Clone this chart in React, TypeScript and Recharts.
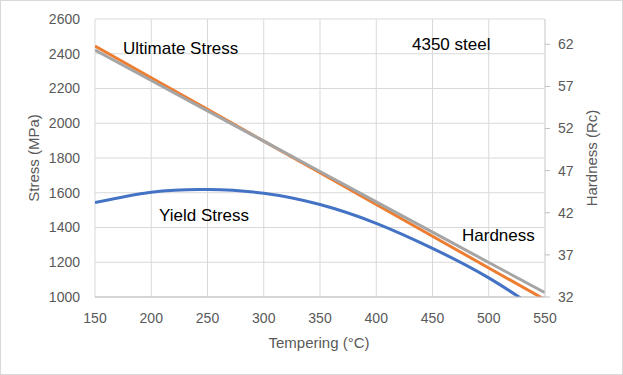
import React from "react";
import { LineChart, Line, XAxis, YAxis, CartesianGrid } from "recharts";

const temps = [150, 200, 250, 300, 350, 400, 450, 500, 550];
const yieldStress = [1543, 1603, 1618, 1597, 1532, 1424, 1280, 1110, 900];
const ultimateStress = [2445, 2262, 2080, 1897, 1715, 1532, 1350, 1167, 985];
const hardness = [61.3, 57.7, 54.1, 50.5, 46.9, 43.3, 39.7, 36.1, 32.5];

const xTicks = [150, 200, 250, 300, 350, 400, 450, 500, 550];
const leftTicks = [1000, 1200, 1400, 1600, 1800, 2000, 2200, 2400, 2600];
const rightTicks = [32, 37, 42, 47, 52, 57, 62];

const data = temps.map((t, i) => ({
  t,
  yield: yieldStress[i],
  ultimate: ultimateStress[i],
  hardness: hardness[i],
}));

const FONT = "'Liberation Sans', Arial, sans-serif";
const tickStyle = { fill: "#595959", fontSize: 14, fontFamily: FONT };

export default function App() {
  return (
    <div
      style={{
        position: "absolute",
        top: 0,
        left: 0,
        width: 623,
        height: 375,
        background: "#fff",
        border: "1px solid #d9d9d9",
        boxSizing: "border-box",
      }}
    >
      <div style={{ position: "absolute", top: -1, left: -1 }}>
        <LineChart
          width={623}
          height={375}
          data={data}
          margin={{ top: 19, right: 18, left: 15, bottom: 38 }}
        >
          <CartesianGrid yAxisId="left" stroke="#d9d9d9" strokeWidth={1} />
          <XAxis
            dataKey="t"
            type="number"
            domain={[150, 550]}
            ticks={xTicks}
            tick={tickStyle}
            tickLine={false}
            tickSize={0}
            tickMargin={16}
            height={40}
            axisLine={{ stroke: "#bfbfbf" }}
            allowDataOverflow
          />
          <YAxis
            yAxisId="left"
            domain={[1000, 2600]}
            ticks={leftTicks}
            tick={tickStyle}
            tickLine={false}
            tickSize={0}
            tickMargin={15}
            width={80}
            axisLine={false}
            allowDataOverflow
          />
          <YAxis
            yAxisId="right"
            orientation="right"
            domain={[32, 65]}
            ticks={rightTicks}
            tick={{ ...tickStyle, textAnchor: "start" }}
            tickLine={{ stroke: "#bfbfbf" }}
            tickSize={5}
            tickMargin={8}
            width={60}
            axisLine={{ stroke: "#d9d9d9" }}
            allowDataOverflow
          />
          <Line
            yAxisId="left"
            dataKey="yield"
            type="natural"
            stroke="#4472C4"
            strokeWidth={3}
            dot={false}
            isAnimationActive={false}
          />
          <Line
            yAxisId="left"
            dataKey="ultimate"
            type="linear"
            stroke="#ED7D31"
            strokeWidth={3}
            dot={false}
            isAnimationActive={false}
          />
          <Line
            yAxisId="right"
            dataKey="hardness"
            type="linear"
            stroke="#A5A5A5"
            strokeWidth={3}
            dot={false}
            isAnimationActive={false}
          />
        </LineChart>
      </div>
      <svg
        width={623}
        height={375}
        style={{ position: "absolute", top: -1, left: -1, pointerEvents: "none" }}
      >
        <g fontFamily={FONT}>
          <text x={123} y={54} fontSize={17} fill="#000">Ultimate Stress</text>
          <text x={412} y={50} fontSize={17} fill="#000">4350 steel</text>
          <text x={159} y={221} fontSize={17} fill="#000">Yield Stress</text>
          <text x={462} y={241} fontSize={17} fill="#000">Hardness</text>
          <text x={319} y={348} fontSize={15} fill="#595959" textAnchor="middle">Tempering (°C)</text>
          <text
            x={38.5}
            y={158}
            fontSize={15}
            fill="#595959"
            textAnchor="middle"
            transform="rotate(-90 38.5 158)"
          >
            Stress (MPa)
          </text>
          <text
            x={597}
            y={158}
            fontSize={15}
            fill="#595959"
            textAnchor="middle"
            transform="rotate(-90 597 158)"
          >
            Hardness (Rc)
          </text>
        </g>
      </svg>
    </div>
  );
}
